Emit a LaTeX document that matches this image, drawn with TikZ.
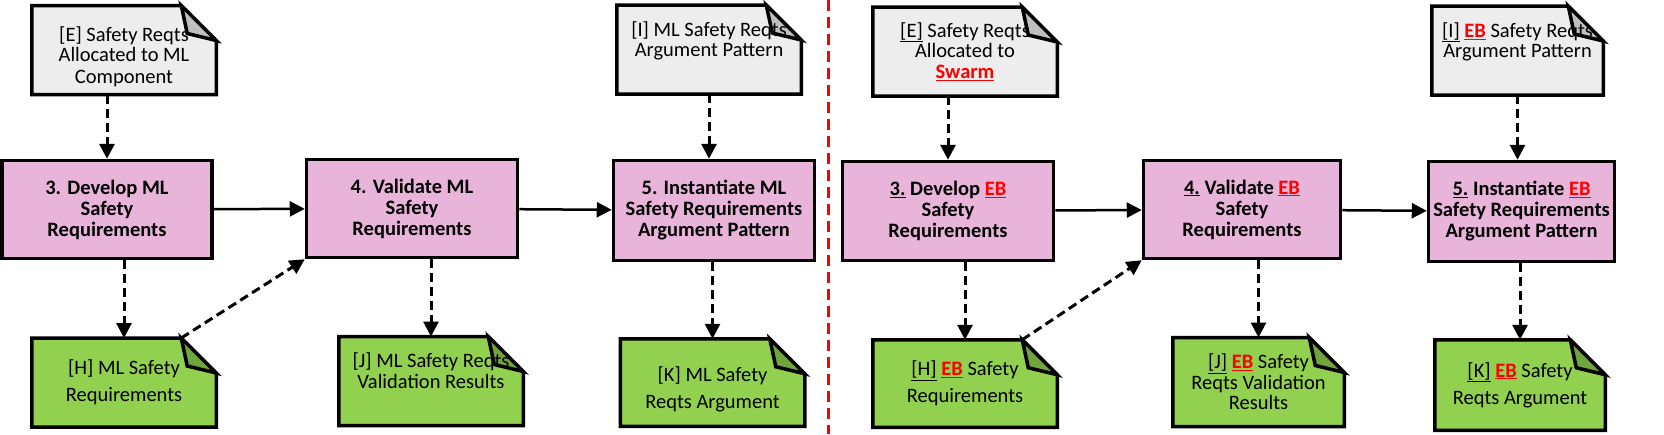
\documentclass[tikz,border=0pt]{standalone}
\usepackage{fontspec}
\setmainfont{Carlito}
\usetikzlibrary{arrows.meta}
\usetikzlibrary{calc}

\definecolor{notegrey}{HTML}{EDEDED}
\definecolor{foldgrey}{HTML}{BFBFBF}
\definecolor{notegreen}{HTML}{92D050}
\definecolor{foldgreen}{HTML}{70A43C}
\definecolor{stepfill}{HTML}{E9B4DA}
\definecolor{ebred}{HTML}{FF0000}

\newcommand{\EBtag}{\textcolor{ebred}{\textbf{\underline{EB}}}}

\pgfdeclarelayer{background}
\pgfsetlayers{background,main}

\begin{document}
\begin{tikzpicture}[x=1pt, y=-1pt]

\tikzset{
    myarrow/.style={-{Triangle[length=15pt, width=15pt]}, line width=2.5pt},
    dasharrow/.style={myarrow, line width=3pt, dash pattern=on 9pt off 5pt},
    stepbox/.style={draw, line width=3.5pt, fill=stepfill, align=center, inner sep=0pt,
        font=\bfseries\fontsize{20.5}{21}\selectfont},
    note/.style={align=center, inner sep=0pt, outer sep=0pt,
        minimum width=184.5pt, minimum height=89pt,
        font=\fontsize{20.5}{20.5}\selectfont},
    loose/.style={font=\fontsize{20.5}{27}\selectfont},
    noteline/.style={draw, line width=3.5pt, line join=miter},
    sepline/.style={draw=ebred, line width=3pt, dash pattern=on 11pt off 6pt}
}

\pgfmathsetmacro{\F}{35}

\useasboundingbox (0,0) rectangle (1664,434);

%%%%%%%%%%%%%%%%%%%%%%%%%%%%%%%%%%%%%%%%%%%%%%%%%%%%%%%%%
%                       ML side                         %
%%%%%%%%%%%%%%%%%%%%%%%%%%%%%%%%%%%%%%%%%%%%%%%%%%%%%%%%%

%steps
\node[stepbox, minimum width=210pt, minimum height=98pt] (dev) at (107,209.5) {3. Develop ML\\Safety\\Requirements};
\node[stepbox, minimum width=211pt, minimum height=98pt] (val) at (412,208.5) {4. Validate ML\\Safety\\Requirements};
\node[stepbox, minimum width=201pt, minimum height=100pt] (inst) at (714,210.5) {5. Instantiate ML\\Safety Requirements\\Argument Pattern};

%inputs
\node[note] (E) at (124,50) {\mbox{}\\[8pt][E] Safety Reqts\\Allocated to ML\\[1.5pt]Component};
\node[note] (I) at (709,49.5) {[I] ML Safety Reqts\\Argument Pattern\\\mbox{}};

%outputs
\node[note, loose] (H) at (124,382.5) {[H] ML Safety\\Requirements};
\node[note] (J) at (431,381) {[J] ML Safety Reqts\\Validation Results\\\mbox{}};
\node[note, loose, minimum height=87.5pt] (K) at (712.5,382.5) {\mbox{}\\[1pt][K] ML Safety\\Reqts Argument};

%separator
\coordinate (septop) at (828,0);
\coordinate (sepbot) at (828,434);
\draw[sepline] (septop) -- (sepbot);

%%%%%%%%%%%%%%%%%%%%%%%%%%%%%%%%%%%%%%%%%%%%%%%%%%%%%%%%%
%                       EB side                         %
%%%%%%%%%%%%%%%%%%%%%%%%%%%%%%%%%%%%%%%%%%%%%%%%%%%%%%%%%

%steps
\node[stepbox, minimum width=211pt, minimum height=99pt] (devs) at (948,211) {\underline{3.} Develop \EBtag\\Safety\\Requirements};
\node[stepbox, minimum width=197pt, minimum height=98pt] (vals) at (1242,209.5) {\underline{4.} Validate \EBtag\\Safety\\Requirements};
\node[stepbox, minimum width=186pt, minimum height=100pt] (insts) at (1521.5,211.5) {\underline{5.} Instantiate \EBtag\\Safety Requirements\\Argument Pattern};

%inputs
\node[note] (Es) at (965,51.5) {\underline{[E]} Safety Reqts\\Allocated to\\\textcolor{ebred}{\textbf{\underline{Swarm}}}};
\node[note, minimum width=171.5pt] (Is) at (1517.5,50.5) {\underline{[I]} \EBtag{} Safety Reqts\\Argument Pattern\\\mbox{}};

%outputs
\node[note, loose, minimum height=87.5pt] (Hs) at (965,383.5) {\underline{[H]} \EBtag{} Safety\\Requirements};
\node[note, minimum width=171.5pt] (Js) at (1258.5,382) {\underline{[J]} \EBtag{} Safety\\Reqts Validation\\Results};
\node[note, loose, minimum width=170.5pt, minimum height=90.5pt] (Ks) at (1520,385) {\underline{[K]} \EBtag{} Safety\\Reqts Argument};

%note outlines with folded corner
\begin{pgfonlayer}{background}
\foreach \n/\c in {E/grey,I/grey,Es/grey,Is/grey,H/green,J/green,K/green,Hs/green,Js/green,Ks/green}{
    \draw[noteline, fill=note\c] (\n.north west) -- ([xshift=-\F pt]\n.north east) -- ([yshift=-\F pt]\n.north east)
        -- (\n.south east) -- (\n.south west) -- cycle;
    \draw[noteline, fill=fold\c] ([xshift=-\F pt]\n.north east) -- ([shift={(-29pt,-28pt)}]\n.north east)
        -- ([yshift=-\F pt]\n.north east) -- cycle;
}
\end{pgfonlayer}

%ML connectors
\draw[dasharrow] (dev.north |- E.south) -- (dev.north);
\draw[myarrow] (dev) -- (val);
\draw[myarrow] (val) -- (inst);
\draw[dasharrow] (H.north |- dev.south) -- (H.north);
\draw[dasharrow] ([xshift=-\F pt]H.north east) -- (val.south west);
\draw[dasharrow] (J.north |- val.south) -- (J.north);
\draw[dasharrow] (I.south) -- (I.south |- inst.north);
\draw[dasharrow] (K.north |- inst.south) -- (K.north);

%EB connectors
\draw[dasharrow] (devs.north |- Es.south) -- (devs.north);
\draw[myarrow] (devs) -- (vals);
\draw[myarrow] (vals) -- (insts);
\draw[dasharrow] (Hs.north |- devs.south) -- (Hs.north);
\draw[dasharrow] ([xshift=-\F pt]Hs.north east) -- (vals.south west);
\draw[dasharrow] (Js.north |- vals.south) -- (Js.north);
\draw[dasharrow] (Is.south) -- (Is.south |- insts.north);
\draw[dasharrow] (Ks.north |- insts.south) -- (Ks.north);

\end{tikzpicture}
\end{document}
